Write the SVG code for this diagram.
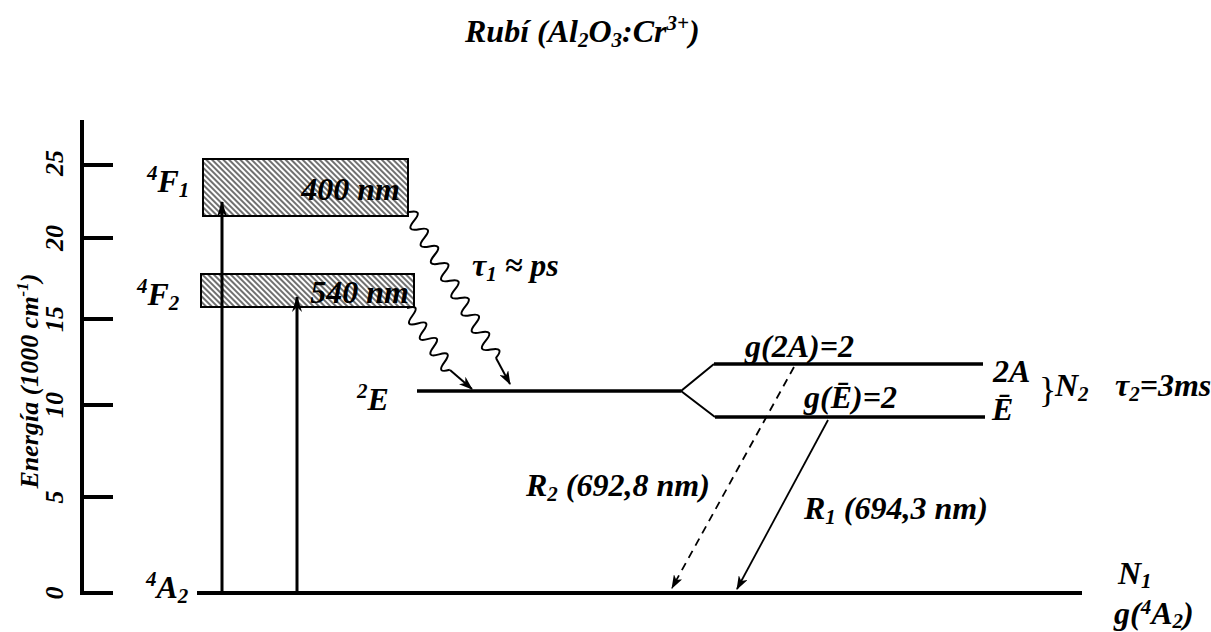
<svg xmlns="http://www.w3.org/2000/svg" width="1211" height="632" viewBox="0 0 1211 632">
<style>
.t{font-family:"Liberation Serif","Times New Roman",serif;font-weight:bold;font-style:italic;font-size:32px;fill:#000}
.ax{font-family:"Liberation Serif","Times New Roman",serif;font-weight:bold;font-style:italic;font-size:26px;fill:#000}
.lvl{stroke:#000;stroke-width:3.5;fill:none}
.tk{stroke:#000;stroke-width:4;fill:none}
.ar{stroke:#000;fill:none}
.box{fill:url(#hatch);stroke:#000;stroke-width:2}
</style>
<defs>
<pattern id="hatch" patternUnits="userSpaceOnUse" width="4" height="4" patternTransform="rotate(-45)">
<rect width="4" height="4" fill="#fff"/>
<line x1="1" y1="0" x2="1" y2="4" stroke="#333" stroke-width="1.4"/>
</pattern>
<marker id="ah" viewBox="0 0 14 10" refX="13" refY="5" markerWidth="14" markerHeight="10" markerUnits="userSpaceOnUse" orient="auto">
<path d="M0,0 L14,5 L0,10 L4,5 Z" fill="#000"/>
</marker>
<marker id="ahs" viewBox="0 0 16 10" refX="15" refY="5" markerWidth="16" markerHeight="10" markerUnits="userSpaceOnUse" orient="auto">
<path d="M0,0 L16,5 L0,10 L5,5 Z" fill="#000"/>
</marker>
</defs>

<text class="t" x="465" y="42">Rubí (Al<tspan font-size="21" dy="5">2</tspan><tspan dy="-5">O</tspan><tspan font-size="21" dy="5">3</tspan><tspan dy="-5">:Cr</tspan><tspan font-size="21" dy="-12">3+</tspan><tspan dy="12">)</tspan></text>

<g id="axis">
<line class="tk" x1="82" y1="120" x2="82" y2="595"/>
<line class="tk" x1="80" y1="165" x2="113" y2="165"/>
<line class="tk" x1="80" y1="238" x2="113" y2="238"/>
<line class="tk" x1="80" y1="319" x2="113" y2="319"/>
<line class="tk" x1="80" y1="405" x2="113" y2="405"/>
<line class="tk" x1="80" y1="497" x2="113" y2="497"/>
<line class="tk" x1="80" y1="593" x2="113" y2="593"/>
<text class="ax" text-anchor="middle" transform="translate(63,163) rotate(-90)">25</text>
<text class="ax" text-anchor="middle" transform="translate(63,238) rotate(-90)">20</text>
<text class="ax" text-anchor="middle" transform="translate(63,319) rotate(-90)">15</text>
<text class="ax" text-anchor="middle" transform="translate(63,405) rotate(-90)">10</text>
<text class="ax" text-anchor="middle" transform="translate(63,497) rotate(-90)">5</text>
<text class="ax" text-anchor="middle" transform="translate(63,593) rotate(-90)">0</text>
<text class="ax" text-anchor="middle" transform="translate(38,381) rotate(-90)">Energía (1000 cm<tspan font-size="17" dy="-10">-1</tspan><tspan dy="10">)</tspan></text>
</g>

<g id="F1">
<rect class="box" x="203" y="159" width="205" height="57"/>
<text class="t" x="147" y="192"><tspan font-size="21" dy="-12">4</tspan><tspan dy="12">F</tspan><tspan font-size="21" dy="5">1</tspan></text>
<text class="t" x="400" y="200" text-anchor="end">400 nm</text>
</g>

<g id="F2">
<rect class="box" x="201" y="274" width="213" height="33"/>
<text class="t" x="137" y="305"><tspan font-size="21" dy="-12">4</tspan><tspan dy="12">F</tspan><tspan font-size="21" dy="5">2</tspan></text>
<text class="t" x="409" y="303" text-anchor="end">540 nm</text>
</g>

<g id="A2">
<line class="tk" x1="197" y1="593" x2="1082" y2="593"/>
<text class="t" x="146" y="598"><tspan font-size="21" dy="-12">4</tspan><tspan dy="12">A</tspan><tspan font-size="21" dy="5">2</tspan></text>
<text class="t" x="1118" y="584">N<tspan font-size="21" dy="4">1</tspan></text>
<text class="t" x="1114" y="624">g(<tspan font-size="21" dy="-10">4</tspan><tspan dy="10">A</tspan><tspan font-size="21" dy="4">2</tspan><tspan dy="-4">)</tspan></text>
</g>

<g id="E2">
<line class="lvl" x1="417" y1="391" x2="681" y2="391"/>
<polyline points="714,364 681,391 715,417" stroke="#000" stroke-width="2" fill="none"/>
<text class="t" x="357" y="410"><tspan font-size="21" dy="-12">2</tspan><tspan dy="12">E</tspan></text>
</g>

<g id="level2A">
<line class="lvl" x1="714" y1="364" x2="983" y2="364"/>
<text class="t" x="745" y="357">g(2A)=2</text>
<text class="t" x="993" y="382">2A</text>
</g>

<g id="levelE">
<line class="lvl" x1="715" y1="417" x2="985" y2="417"/>
<text class="t" x="804" y="408">g(Ē)=2</text>
<text class="t" x="992" y="420">Ē</text>
</g>

<g id="N2">
<text x="1039" y="402" font-family="Liberation Serif, serif" font-size="36">}</text>
<text class="t" x="1055" y="396">N<tspan font-size="21" dy="5">2</tspan></text>
<text class="t" x="1115" y="396">τ<tspan font-size="21" dy="5">2</tspan><tspan dy="-5">=3ms</tspan></text>
</g>

<g id="connectors">
<line class="ar" x1="222" y1="593" x2="222" y2="202" stroke-width="3" marker-end="url(#ahs)"/>
<line class="ar" x1="297" y1="593" x2="297" y2="297" stroke-width="3" marker-end="url(#ahs)"/>
<g transform="translate(409,212) rotate(59.3)">
<path class="ar" stroke-width="2" d="M0,0 q5,-14 10,0 t10,0 t10,0 t10,0 t10,0 t10,0 t10,0 t10,0 t10,0 t10,0 t10,0 t10,0 t10,0 t10,0 t10,0 t10,0 t10,0"/>
</g>
<line class="ar" x1="496" y1="358" x2="510" y2="384" stroke-width="2" marker-end="url(#ah)"/>
<g transform="translate(407,308) rotate(55.3)">
<path class="ar" stroke-width="2" d="M0,0 q4.7,-14 9.4,0 t9.4,0 t9.4,0 t9.4,0 t9.4,0 t9.4,0 t9.4,0 t9.4,0"/>
</g>
<line class="ar" x1="450" y1="370" x2="472" y2="389" stroke-width="2" marker-end="url(#ah)"/>
<line class="ar" x1="794" y1="367" x2="672" y2="588" stroke-width="1.8" stroke-dasharray="8,6" marker-end="url(#ah)"/>
<line class="ar" x1="828" y1="420" x2="737" y2="589" stroke-width="1.8" marker-end="url(#ah)"/>
<text class="t" x="472" y="276">τ<tspan font-size="21" dy="5">1</tspan><tspan dy="-5"> ≈ ps</tspan></text>
<text class="t" x="526" y="496">R<tspan font-size="21" dy="5">2</tspan><tspan dy="-5"> (692,8 nm)</tspan></text>
<text class="t" x="804" y="519">R<tspan font-size="21" dy="5">1</tspan><tspan dy="-5"> (694,3 nm)</tspan></text>
</g>
</svg>
